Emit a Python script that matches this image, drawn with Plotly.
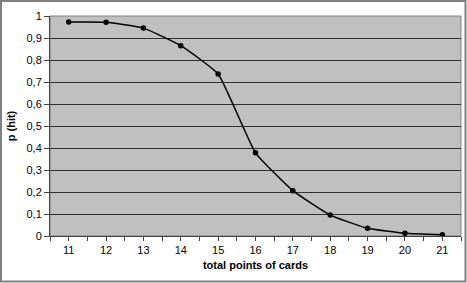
import plotly.graph_objects as go

points = [11, 12, 13, 14, 15, 16, 17, 18, 19, 20, 21]
p_hit = [0.973, 0.972, 0.945, 0.865, 0.736, 0.378, 0.206, 0.095, 0.035, 0.012, 0.006]
y_ticks = [0, 0.1, 0.2, 0.3, 0.4, 0.5, 0.6, 0.7, 0.8, 0.9, 1]
y_labels = ["0", "0,1", "0,2", "0,3", "0,4", "0,5", "0,6", "0,7", "0,8", "0,9", "1"]

W, H = 467, 283
ml, mr, mt, mb = 50, 6, 16, 47
pw, ph = W - ml - mr, H - mt - mb

def px(x):
    return (x - ml) / pw

def py(y):
    return (H - mb - y) / ph

fig = go.Figure()
fig.add_trace(go.Scatter(
    x=points, y=p_hit, mode="lines+markers",
    line=dict(color="black", width=1.5, shape="spline", smoothing=0.4),
    marker=dict(color="black", size=5.5),
    showlegend=False,
))

fig.update_layout(
    width=W, height=H,
    margin=dict(l=ml, r=mr, t=mt, b=mb),
    paper_bgcolor="white",
    plot_bgcolor="#C0C0C0",
    font=dict(family="Liberation Sans, Arial, sans-serif", size=11, color="black"),
    xaxis=dict(
        range=[10.5, 21.5], tickmode="array", tickvals=points,
        ticks="outside", ticklen=4, tickcolor="#404040",
        minor=dict(dtick=0.5, tick0=10.5, ticks="outside", ticklen=4, tickcolor="#404040"),
        showgrid=False, zeroline=False,
        showline=True, linecolor="#404040", linewidth=1,
        title=dict(text="<b>total points of cards</b>", standoff=6, font=dict(size=11)),
        fixedrange=True,
    ),
    yaxis=dict(
        range=[0, 1], tickmode="array", tickvals=y_ticks, ticktext=y_labels,
        ticks="outside", ticklen=5, tickcolor="#404040",
        showgrid=True, gridcolor="#303030", gridwidth=1,
        zeroline=False,
        showline=True, linecolor="#404040", linewidth=1,
        title=dict(text="<b>p (hit)</b>", standoff=8, font=dict(size=11)),
        fixedrange=True,
    ),
    shapes=[
        dict(type="rect", xref="paper", yref="paper",
             x0=0, x1=1, y0=0, y1=1,
             line=dict(color="#808080", width=1), layer="below"),
        dict(type="rect", xref="paper", yref="paper",
             x0=px(1), x1=px(W - 1.5), y0=py(1), y1=py(H - 1.5),
             line=dict(color="#808080", width=2)),
    ],
)

fig.write_html("out.html")
